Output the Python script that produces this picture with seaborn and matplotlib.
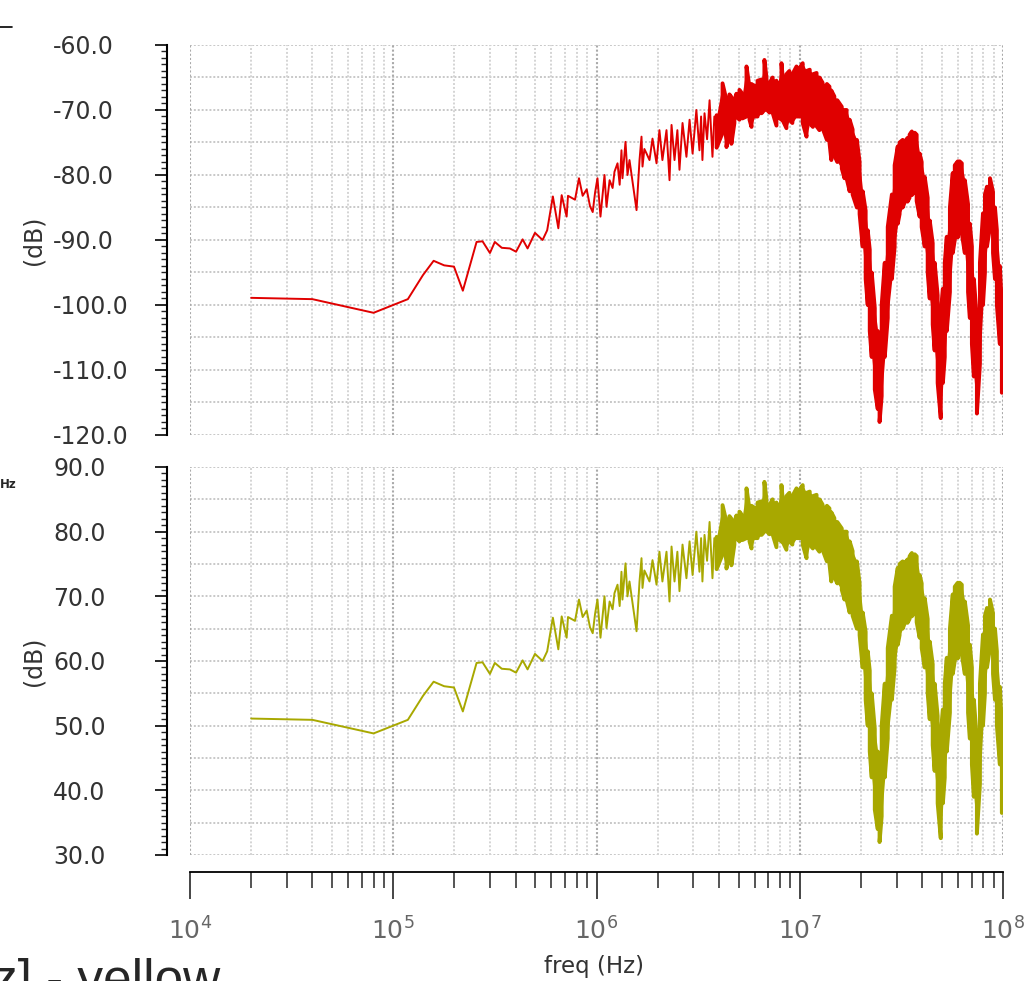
import numpy as np
import seaborn as sns
import matplotlib.pyplot as plt
from matplotlib.ticker import MultipleLocator, LogLocator, NullFormatter, FormatStrFormatter
from matplotlib.lines import Line2D

sns.set_style("white")
plt.rcParams['font.family'] = ['DejaVu Sans']

# sparse part of the trace (MHz, dB)
f_line_mhz = [0.02, 0.04, 0.08, 0.118, 0.14, 0.158, 0.178, 0.199, 0.22, 0.257,
              0.275, 0.299, 0.316, 0.342, 0.375, 0.402, 0.433, 0.458, 0.498, 0.543,
              0.572, 0.61, 0.649, 0.674, 0.713, 0.724, 0.784, 0.82, 0.855, 0.895,
              0.929, 0.958, 0.984, 1.011, 1.046, 1.095, 1.12, 1.16, 1.2, 1.226,
              1.269, 1.30, 1.327, 1.342, 1.389, 1.421, 1.453, 1.574, 1.628, 1.665,
              1.684, 1.72, 1.763, 1.823, 1.886, 1.974, 2.04, 2.11, 2.21, 2.287,
              2.34, 2.42, 2.5, 2.56, 2.65, 2.77, 2.87, 2.97, 3.1, 3.21,
              3.27, 3.32, 3.40, 3.50, 3.60, 3.66, 3.72, 3.80, 3.90]
red_line_db = [-98.9, -99.1, -101.2, -99.1, -95.4, -93.2, -93.9, -94.1, -97.8, -90.3,
               -90.2, -92.0, -90.3, -91.2, -91.3, -91.8, -89.9, -91.3, -88.9, -90.0,
               -88.5, -83.3, -88.2, -83.1, -86.4, -83.2, -83.8, -80.5, -83.2, -82.2,
               -84.8, -85.7, -82.7, -80.5, -86.4, -80.0, -84.9, -80.8, -82.0, -79.5,
               -78.2, -81.5, -76.2, -80.5, -74.9, -80.0, -77.7, -85.4, -77.7, -74.1,
               -78.7, -76.0, -76.7, -77.7, -74.4, -78.2, -73.1, -77.7, -73.1, -80.8,
               -72.3, -77.7, -73.1, -79.2, -72.0, -77.2, -71.5, -76.7, -70.0, -76.2,
               -71.0, -77.7, -70.5, -74.5, -68.5, -73.0, -77.2, -71.0, -73.0]
yel_line_db = [51.1, 50.9, 48.8, 50.9, 54.6, 56.8, 56.1, 55.9, 52.2, 59.7,
               59.8, 58.0, 59.7, 58.8, 58.7, 58.2, 60.1, 58.7, 61.1, 60.0,
               61.5, 66.7, 61.8, 66.9, 63.6, 66.8, 66.2, 69.5, 66.8, 67.8,
               65.2, 64.3, 67.3, 69.5, 63.6, 70.0, 65.1, 69.2, 68.0, 70.5,
               71.8, 68.5, 73.8, 69.5, 75.1, 70.0, 72.3, 64.6, 72.3, 75.9,
               71.3, 74.0, 73.3, 72.3, 75.6, 71.8, 76.9, 72.3, 76.9, 69.2,
               77.7, 72.3, 76.9, 70.8, 78.0, 72.8, 78.5, 73.3, 80.0, 73.8,
               79.0, 72.3, 79.5, 75.5, 81.5, 77.0, 72.8, 79.0, 77.0]

# dense part: max / min of the trace at each frequency (MHz, dB)
f_band_mhz = [3.90, 4.17, 4.36, 4.51, 4.61, 4.77, 4.88, 5.05, 5.22, 5.47,
              5.66, 5.79, 5.99, 6.20, 6.49, 6.70, 6.86, 7.10, 7.35, 7.68,
              7.77, 8.13, 8.22, 8.60, 8.89, 9.20, 9.64, 10.0, 10.34, 10.8,
              11.2, 11.6, 12.1, 12.5, 12.95, 13.6, 14.0, 14.3, 14.8, 15.3,
              16.1, 16.6, 17.0, 17.6, 18.2, 19.1, 19.7, 20.4, 21.1, 21.6,
              22.1, 22.6, 23.4, 24.2, 24.7, 25.3, 26.2, 27.1, 28.4, 29.3,
              30.35, 31.0, 32.1, 33.0, 33.9, 34.7, 35.6, 36.8, 37.6, 38.9,
              39.8, 41.2, 42.6, 43.6, 45.1, 46.1, 47.7, 49.4, 50.6, 51.7,
              52.9, 54.8, 56.6, 57.9, 59.9, 61.2, 62.7, 64.9, 67.3, 68.7,
              70.3, 71.9, 74.4, 77.0, 79.7, 81.5, 83.4, 86.3, 89.3, 91.3,
              93.3, 96.5, 98.7]
red_hi_db = [-70.8, -65.9, -68.5, -67.6, -68.0, -68.5, -67.5, -66.9, -67.5, -63.3,
             -66.5, -66.0, -66.3, -65.5, -65.3, -62.3, -65.0, -65.9, -65.0, -65.5,
             -66.2, -62.8, -64.5, -64.5, -64.0, -64.5, -63.3, -63.5, -62.8, -64.0,
             -63.8, -64.5, -64.3, -65.0, -65.8, -66.0, -66.4, -67.0, -67.9, -68.5,
             -69.5, -70.0, -70.0, -71.5, -73.0, -74.6, -78.0, -82.5, -85.5, -88.5,
             -91.5, -95.0, -100.5, -104.0, -105.0, -100.0, -93.5, -88.0, -83.0, -78.5,
             -75.6, -75.0, -74.6, -74.8, -74.3, -73.8, -73.3, -73.5, -73.8, -76.7,
             -78.0, -80.3, -83.5, -87.0, -90.5, -93.5, -98.5, -101.5, -97.5, -93.5,
             -89.5, -85.0, -79.7, -78.5, -77.9, -77.9, -78.2, -80.8, -84.5, -87.5,
             -91.0, -96.0, -102.3, -93.5, -85.9, -83.0, -81.8, -80.5, -82.6, -85.0,
             -88.5, -94.0, -100.0]
red_lo_db = [-75.8, -73.5, -75.7, -73.0, -75.2, -72.0, -71.0, -71.5, -71.3, -71.0,
             -71.5, -72.6, -71.0, -71.0, -70.5, -70.0, -69.9, -70.4, -70.4, -72.4,
             -71.0, -71.5, -71.5, -72.8, -71.5, -72.0, -71.0, -71.0, -72.0, -74.1,
             -72.0, -72.6, -72.5, -73.1, -72.8, -74.6, -75.0, -77.7, -77.0, -78.0,
             -79.0, -80.5, -80.5, -82.5, -83.0, -85.0, -86.0, -91.0, -96.0, -100.0,
             -104.0, -108.0, -113.0, -116.0, -118.0, -114.0, -108.0, -102.0, -96.0, -91.0,
             -87.5, -86.0, -85.0, -84.0, -84.1, -83.5, -83.1, -82.5, -84.0, -86.4,
             -88.0, -91.0, -95.0, -99.0, -103.0, -107.0, -112.0, -117.4, -112.0, -108.0,
             -104.0, -98.0, -92.0, -90.0, -89.6, -87.4, -89.0, -92.0, -98.0, -102.0,
             -106.0, -111.0, -116.7, -109.0, -100.0, -95.0, -91.0, -88.0, -92.0, -96.0,
             -100.0, -106.0, -113.5]
yel_hi_db = [79.2, 84.1, 81.5, 82.4, 82.0, 81.5, 82.5, 83.1, 82.5, 86.7,
             83.5, 84.0, 83.7, 84.5, 84.7, 87.7, 85.0, 84.1, 85.0, 84.5,
             83.8, 87.2, 85.5, 85.5, 86.0, 85.5, 86.7, 86.5, 87.2, 86.0,
             86.2, 85.5, 85.7, 85.0, 84.2, 84.0, 83.6, 83.0, 82.1, 81.5,
             80.5, 80.0, 80.0, 78.5, 77.0, 75.4, 72.0, 67.5, 64.5, 61.5,
             58.5, 55.0, 49.5, 46.0, 45.0, 50.0, 56.5, 62.0, 67.0, 71.5,
             74.4, 75.0, 75.4, 75.2, 75.7, 76.2, 76.7, 76.5, 76.2, 73.3,
             72.0, 69.7, 66.5, 63.0, 59.5, 56.5, 51.5, 48.5, 52.5, 56.5,
             60.5, 65.0, 70.3, 71.5, 72.1, 72.1, 71.8, 69.2, 65.5, 62.5,
             59.0, 54.0, 47.7, 56.5, 64.1, 67.0, 68.2, 69.5, 67.4, 65.0,
             61.5, 56.0, 50.0]
yel_lo_db = [74.2, 76.5, 74.3, 77.0, 74.8, 78.0, 79.0, 78.5, 78.7, 79.0,
             78.5, 77.4, 79.0, 79.0, 79.5, 80.0, 80.1, 79.6, 79.6, 77.6,
             79.0, 78.5, 78.5, 77.2, 78.5, 78.0, 79.0, 79.0, 78.0, 75.9,
             78.0, 77.4, 77.5, 76.9, 77.2, 75.4, 75.0, 72.3, 73.0, 72.0,
             71.0, 69.5, 69.5, 67.5, 67.0, 65.0, 64.0, 59.0, 54.0, 50.0,
             46.0, 42.0, 37.0, 34.0, 32.0, 36.0, 42.0, 48.0, 54.0, 59.0,
             62.5, 64.0, 65.0, 66.0, 65.9, 66.5, 66.9, 67.5, 66.0, 63.6,
             62.0, 59.0, 55.0, 51.0, 47.0, 43.0, 38.0, 32.6, 38.0, 42.0,
             46.0, 52.0, 58.0, 60.0, 60.4, 62.6, 61.0, 58.0, 52.0, 48.0,
             44.0, 39.0, 33.3, 41.0, 50.0, 55.0, 59.0, 62.0, 58.0, 54.0,
             50.0, 44.0, 36.5]

RED = '#e00000'
OLIVE = '#a8a800'
W, H = 1035, 981
PX = 0.72  # points per pixel at dpi 100


def meander(f, hi, lo):
    # vertical strokes max->min, min->max ... like a dense trace
    xs, ys = [], []
    for i, (fi, h, l) in enumerate(zip(f, hi, lo)):
        xs += [fi * 1e6, fi * 1e6]
        ys += [h, l] if i % 2 == 0 else [l, h]
    return np.array(xs), np.array(ys)


fig = plt.figure(figsize=(W / 100, H / 100), dpi=100)
ax_top = fig.add_axes([190 / W, 1 - 435 / H, 813 / W, 390 / H])
ax_bot = fig.add_axes([190 / W, 1 - 855 / H, 813 / W, 388 / H])

panels = [(ax_top, red_line_db, red_hi_db, red_lo_db, RED, -120, -60),
          (ax_bot, yel_line_db, yel_hi_db, yel_lo_db, OLIVE, 30, 90)]

f_band_hz = np.array(f_band_mhz) * 1e6
for ax, line_db, hi_db, lo_db, col, ymin, ymax in panels:
    sns.lineplot(x=np.array(f_line_mhz) * 1e6, y=line_db, ax=ax, color=col, lw=1.4,
                 sort=False, estimator=None, legend=False)
    ax.fill_between(f_band_hz, lo_db, hi_db, color=col, lw=0)
    mx, my = meander(f_band_mhz, hi_db, lo_db)
    sns.lineplot(x=mx, y=my, ax=ax, color=col, lw=2.8, sort=False, estimator=None, legend=False)

    ax.set_xscale('log')
    ax.set_xlim(1e4, 1e8)
    ax.set_ylim(ymin, ymax)
    ax.set_xlabel('')

    # dotted grid
    for v in np.arange(ymin, ymax + 1, 5):
        ax.axhline(v, color='#c8c8c8', ls=(0, (1, 1)), lw=1.4, zorder=0)
    ax.xaxis.set_major_locator(LogLocator(base=10, numticks=10))
    ax.xaxis.set_minor_locator(LogLocator(base=10, subs=np.arange(2, 10), numticks=100))
    ax.xaxis.set_minor_formatter(NullFormatter())
    ax.grid(True, which='major', axis='x', color='#aaaaaa', ls=(0, (1, 1)), lw=1.5, zorder=0)
    ax.grid(True, which='minor', axis='x', color='#d4d4d4', ls=(0, (1, 1)), lw=1.4, zorder=0)
    ax.set_axisbelow(True)

    for s in ['top', 'right', 'bottom']:
        ax.spines[s].set_visible(False)
    ax.spines['left'].set_position(('outward', 23 * PX))
    ax.spines['left'].set_linewidth(1.5)
    ax.spines['left'].set_color('black')

    ax.yaxis.set_major_locator(MultipleLocator(10))
    ax.yaxis.set_minor_locator(MultipleLocator(1))
    ax.yaxis.set_major_formatter(FormatStrFormatter('%.1f'))
    ax.tick_params(axis='y', which='major', length=12 * PX, width=1.4, direction='out',
                   labelsize=17, labelcolor='#333333', pad=102 * PX, left=True)
    ax.tick_params(axis='y', which='minor', length=6 * PX, width=1.0, direction='out', left=True)
    for t in ax.get_yticklabels():
        t.set_horizontalalignment('left')
    ax.set_ylabel('(dB)', fontsize=17, color='#333333')
    ax.yaxis.set_label_coords(-0.178, 0.5)

ax_top.tick_params(axis='x', which='both', length=0, labelbottom=False)

ax_bot.spines['bottom'].set_visible(True)
ax_bot.spines['bottom'].set_position(('outward', 17 * PX))
ax_bot.spines['bottom'].set_linewidth(1.3)
ax_bot.spines['bottom'].set_color('black')
ax_bot.tick_params(axis='x', which='major', length=27 * PX, width=1.2, direction='out',
                   labelsize=18, labelcolor='#666666', pad=18 * PX, bottom=True)
ax_bot.tick_params(axis='x', which='minor', length=16 * PX, width=1.1, direction='out', bottom=True)

fig.text(594 / W, 1 - 966 / H, 'freq (Hz)', ha='center', va='center', fontsize=16.5, color='#333333')

# bits of neighbouring text cut off at the left edge
fig.text(-8 / W, 1 - 996 / H, 'z] - yellow', fontsize=37, family='Liberation Sans', va='baseline')
fig.text(0, 1 - 485 / H, 'Hz', fontsize=8.5, fontweight='bold', va='center')
fig.add_artist(Line2D([0, 12 / W], [1 - 27 / H, 1 - 27 / H], color='black', lw=1.2,
                      transform=fig.transFigure))

fig.savefig('out.png', dpi=100)
